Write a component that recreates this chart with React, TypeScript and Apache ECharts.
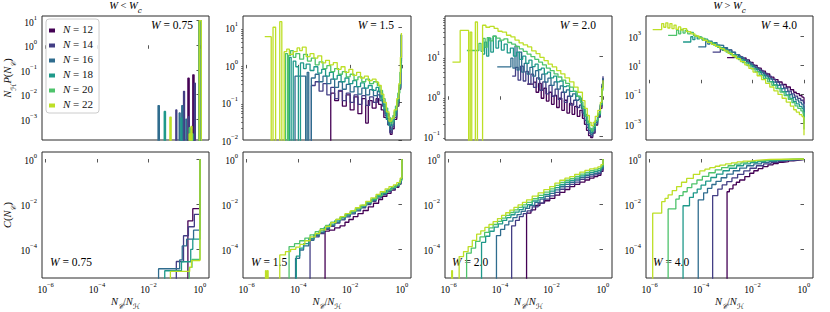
import React, { useEffect, useRef } from 'react';
import * as echarts from 'echarts';

type Pt = [number, number | null];

// Values are log10 of the plotted quantities (x = log10 N_C/N_H, y = log10 of the ordinate); null = empty bin.
const N_LABELS = ['12', '14', '16', '18', '20', '22'];
const W_VALUES = ['0.75', '1.5', '2.0', '4.0'];
const X_TICKS = [-6, -4, -2, 0];
const X_RANGE = [-6.14, 0.35];
const TOP_Y_TICKS = [[-3, -2, -1, 0, 1], [-2, -1, 0, 1], [-1, 0, 1], [-3, -1, 1, 3]];
const TOP_Y_RANGE = [[-3.85, 1.19], [-2.0, 1.3], [-1.09, 2.0], [-4.12, 4.37]];
const BOTTOM_Y_TICKS = [-4, -2, 0];
const BOTTOM_Y_RANGE = [-5.27, 0.31];

// ---- Panel 1: N_H P(N_C), W = 0.75
const p1n12: Pt[] = [[-0.52, null], [-0.47, -1.34], [-0.42, null], [-0.36, -3.4], [-0.33, null], [-0.28, -1.2], [-0.23, null], [-0.03, 0.98], [0.05, null]];
const p1n14: Pt[] = [[-1.0, null], [-0.94, -2.63], [-0.9, null], [-0.64, -1.87], [-0.6, null], [-0.45, -2.9], [-0.42, null], [-0.22, -1.54], [-0.18, null], [-0.03, 0.97], [0.05, null]];
const p1n16: Pt[] = [[-1.7, null], [-1.63, -2.45], [-1.58, null], [-0.81, -2.75], [-0.77, null], [-0.71, -2.45], [-0.67, null], [-0.55, -3.0], [-0.52, null], [-0.03, 0.97], [0.05, null]];
const p1n18: Pt[] = [[-1.45, null], [-1.39, -2.69], [-1.34, null], [-0.74, -2.95], [-0.71, null], [-0.38, -3.45], [-0.34, null], [-0.3, -3.6], [-0.27, null], [-0.03, 0.98], [0.05, null]];
const p1n20: Pt[] = [[-0.5, null], [-0.42, -3.35], [-0.38, null], [-0.33, -3.6], [-0.29, null], [-0.03, 0.99], [0.05, null]];
const p1n22: Pt[] = [[-1.2, null], [-1.17, -2.92], [-1.12, null], [-0.42, -3.6], [-0.38, null], [-0.35, -3.3], [-0.31, null], [-0.03, 1.0], [0.05, null]];

// ---- Panel 2: N_H P(N_C), W = 1.5
const p2n12: Pt[] = [[-2.85, null], [-2.75, -0.75], [-2.6, -0.95], [-2.45, -0.7], [-2.3, -1.1], [-2.15, -0.8], [-2.0, -1.2], [-1.85, -0.85], [-1.7, -1.3], [-1.55, -0.9], [-1.4, -1.55], [-1.3, -0.95], [-1.15, -1.15], [-1.0, -0.9], [-0.9, -1.05], [-0.8, -1.2], [-0.7, -1.4], [-0.6, -1.45], [-0.55, -1.3], [-0.5, -1.6], [-0.45, -1.85], [-0.38, -1.7], [-0.3, -1.45], [-0.2, -1.1], [-0.12, -0.65], [-0.05, 0.05], [-0.02, 0.8], [0, 0.8]];
const p2n14: Pt[] = [[-3.6, null], [-3.5, -0.55], [-3.35, -0.45], [-3.2, -0.7], [-3.05, -0.5], [-2.9, -0.8], [-2.75, -0.6], [-2.6, -0.9], [-2.45, -0.68], [-2.3, -0.95], [-2.15, -0.75], [-2.0, -1.0], [-1.85, -0.8], [-1.7, -1.05], [-1.55, -0.82], [-1.4, -1.08], [-1.25, -0.85], [-1.1, -1.0], [-0.95, -0.8], [-0.85, -0.95], [-0.75, -1.1], [-0.65, -1.35], [-0.55, -1.6], [-0.47, -1.8], [-0.38, -1.65], [-0.3, -1.4], [-0.2, -1.05], [-0.12, -0.62], [-0.05, 0.1], [-0.02, 0.8], [0, 0.8]];
const p2n16: Pt[] = [[-4.2, null], [-4.13, -0.3], [-3.72, null], [-3.66, -0.2], [-3.6, null], [-3.5, -0.35], [-3.35, -0.25], [-3.2, -0.45], [-3.05, -0.3], [-2.9, -0.5], [-2.75, -0.38], [-2.6, -0.6], [-2.45, -0.45], [-2.3, -0.65], [-2.15, -0.52], [-2.0, -0.72], [-1.85, -0.58], [-1.7, -0.78], [-1.55, -0.62], [-1.4, -0.8], [-1.25, -0.66], [-1.1, -0.82], [-0.95, -0.7], [-0.85, -0.85], [-0.75, -1.05], [-0.65, -1.3], [-0.55, -1.55], [-0.47, -1.72], [-0.38, -1.6], [-0.3, -1.35], [-0.2, -1.0], [-0.12, -0.6], [-0.05, 0.15], [-0.02, 0.8], [0, 0.8]];
const p2n18: Pt[] = [[-4.45, null], [-4.35, 0.2], [-4.28, null], [-4.2, 0.1], [-4.1, -0.05], [-4.0, null], [-3.92, 0.05], [-3.8, -0.1], [-3.7, 0.02], [-3.55, -0.15], [-3.4, -0.05], [-3.25, -0.22], [-3.1, -0.12], [-2.95, -0.3], [-2.8, -0.2], [-2.65, -0.38], [-2.5, -0.28], [-2.35, -0.45], [-2.2, -0.35], [-2.05, -0.5], [-1.9, -0.42], [-1.75, -0.58], [-1.6, -0.48], [-1.45, -0.62], [-1.3, -0.55], [-1.15, -0.68], [-1.0, -0.6], [-0.9, -0.72], [-0.8, -0.95], [-0.7, -1.2], [-0.6, -1.45], [-0.5, -1.62], [-0.4, -1.5], [-0.3, -1.25], [-0.2, -0.95], [-0.12, -0.55], [-0.05, 0.2], [-0.02, 0.8], [0, 0.8]];
const p2n20: Pt[] = [[-4.6, null], [-4.5, 0.3], [-4.42, null], [-4.38, 0.25], [-4.3, 0.38], [-4.2, 0.2], [-4.1, 0.3], [-3.95, 0.15], [-3.8, 0.28], [-3.65, 0.1], [-3.5, 0.18], [-3.35, 0.0], [-3.2, 0.08], [-3.05, -0.1], [-2.9, -0.02], [-2.75, -0.18], [-2.6, -0.1], [-2.45, -0.25], [-2.3, -0.18], [-2.15, -0.32], [-2.0, -0.25], [-1.85, -0.4], [-1.7, -0.32], [-1.55, -0.45], [-1.4, -0.38], [-1.25, -0.5], [-1.1, -0.45], [-0.95, -0.55], [-0.85, -0.68], [-0.75, -0.9], [-0.65, -1.15], [-0.55, -1.4], [-0.45, -1.55], [-0.35, -1.35], [-0.25, -1.1], [-0.16, -0.75], [-0.08, -0.2], [-0.03, 0.8], [0, 0.8]];
const p2n22: Pt[] = [[-5.3, 0.75], [-5.05, null], [-4.98, 1.0], [-4.88, null], [-4.72, 1.15], [-4.64, null], [-4.55, 0.35], [-4.45, 0.42], [-4.35, 0.28], [-4.2, 0.35], [-4.05, 0.45], [-3.95, 0.38], [-3.85, 0.47], [-3.7, 0.22], [-3.55, 0.3], [-3.4, 0.18], [-3.25, 0.24], [-3.1, 0.05], [-2.95, 0.12], [-2.8, 0.0], [-2.65, 0.06], [-2.5, -0.12], [-2.35, -0.05], [-2.2, -0.2], [-2.05, -0.12], [-1.9, -0.28], [-1.75, -0.2], [-1.6, -0.35], [-1.45, -0.3], [-1.3, -0.42], [-1.15, -0.38], [-1.0, -0.46], [-0.9, -0.55], [-0.8, -0.78], [-0.7, -1.0], [-0.6, -1.25], [-0.5, -1.5], [-0.4, -1.42], [-0.3, -1.2], [-0.2, -0.9], [-0.12, -0.5], [-0.06, 0.2], [-0.02, 0.85], [0, 0.85]];

// ---- Panel 3: N_H P(N_C), W = 2.0
const p3n12: Pt[] = [[-2.95, 0.3], [-2.7, 0.35], [-2.6, 0.1], [-2.5, 0.32], [-2.4, -0.05], [-2.3, 0.2], [-2.2, -0.12], [-2.1, 0.1], [-2.0, -0.2], [-1.9, 0.02], [-1.8, -0.28], [-1.7, -0.05], [-1.6, -0.35], [-1.5, -0.1], [-1.4, -0.42], [-1.3, -0.18], [-1.2, -0.45], [-1.1, -0.25], [-1.0, -0.5], [-0.9, -0.35], [-0.8, -0.55], [-0.72, -0.7], [-0.64, -0.85], [-0.56, -0.98], [-0.48, -1.03], [-0.4, -0.92], [-0.31, -0.72], [-0.21, -0.52], [-0.11, -0.3], [-0.04, 0.25], [0, 0.45]];
const p3n14: Pt[] = [[-3.53, 0.5], [-3.4, 0.72], [-3.3, 0.4], [-3.2, 0.75], [-3.1, 0.38], [-3.0, 0.62], [-2.9, 0.3], [-2.8, 0.55], [-2.7, 0.22], [-2.58, 0.46], [-2.46, 0.15], [-2.34, 0.36], [-2.22, 0.06], [-2.1, 0.27], [-1.98, 0.0], [-1.86, 0.18], [-1.74, -0.08], [-1.62, 0.1], [-1.5, -0.15], [-1.38, 0.0], [-1.26, -0.22], [-1.14, -0.1], [-1.02, -0.28], [-0.91, -0.22], [-0.81, -0.42], [-0.72, -0.6], [-0.63, -0.78], [-0.55, -0.92], [-0.47, -1.0], [-0.4, -0.9], [-0.31, -0.7], [-0.21, -0.5], [-0.11, -0.25], [-0.04, 0.3], [0, 0.5]];
const p3n16: Pt[] = [[-4.11, 0.73], [-3.58, 0.95], [-3.5, 0.7], [-3.42, 1.25], [-3.34, 0.65], [-3.26, 1.1], [-3.16, 0.6], [-3.06, 0.82], [-2.95, 0.55], [-2.84, 0.72], [-2.73, 0.5], [-2.62, 0.64], [-2.5, 0.42], [-2.38, 0.55], [-2.26, 0.35], [-2.14, 0.45], [-2.02, 0.27], [-1.9, 0.36], [-1.78, 0.18], [-1.66, 0.26], [-1.54, 0.1], [-1.42, 0.16], [-1.3, 0.0], [-1.18, 0.06], [-1.06, -0.1], [-0.95, -0.08], [-0.84, -0.3], [-0.74, -0.5], [-0.65, -0.7], [-0.56, -0.85], [-0.48, -0.95], [-0.4, -0.85], [-0.31, -0.66], [-0.21, -0.48], [-0.11, -0.22], [-0.04, 0.25], [0, 0.45]];
const p3n18: Pt[] = [[-4.69, 1.05], [-4.6, 1.35], [-4.52, 1.0], [-4.44, 1.45], [-4.36, 1.1], [-4.26, 1.5], [-4.16, 1.2], [-4.06, 1.38], [-3.95, 1.15], [-3.84, 1.3], [-3.72, 1.08], [-3.6, 1.2], [-3.48, 1.0], [-3.36, 1.1], [-3.24, 0.92], [-3.12, 1.0], [-3.0, 0.82], [-2.88, 0.9], [-2.76, 0.74], [-2.64, 0.8], [-2.52, 0.66], [-2.4, 0.7], [-2.28, 0.56], [-2.16, 0.6], [-2.04, 0.46], [-1.92, 0.5], [-1.8, 0.36], [-1.68, 0.38], [-1.55, 0.24], [-1.42, 0.26], [-1.3, 0.12], [-1.17, 0.12], [-1.05, 0.0], [-0.93, -0.05], [-0.82, -0.25], [-0.72, -0.45], [-0.63, -0.62], [-0.55, -0.8], [-0.47, -0.9], [-0.39, -0.8], [-0.3, -0.62], [-0.2, -0.45], [-0.1, -0.2], [-0.04, 0.2], [0, 0.35]];
const p3n20: Pt[] = [[-5.29, 1.14], [-4.82, 1.32], [-4.74, 1.12], [-4.66, 1.44], [-4.58, 1.22], [-4.5, 1.46], [-4.4, 1.38], [-4.28, 1.5], [-4.15, 1.45], [-4.0, 1.4], [-3.85, 1.43], [-3.7, 1.34], [-3.55, 1.3], [-3.4, 1.24], [-3.25, 1.18], [-3.1, 1.12], [-2.95, 1.05], [-2.8, 0.99], [-2.65, 0.92], [-2.5, 0.85], [-2.35, 0.78], [-2.2, 0.7], [-2.05, 0.64], [-1.9, 0.56], [-1.75, 0.48], [-1.6, 0.4], [-1.45, 0.32], [-1.3, 0.23], [-1.15, 0.12], [-1.0, 0.0], [-0.88, -0.15], [-0.78, -0.3], [-0.68, -0.5], [-0.6, -0.66], [-0.52, -0.8], [-0.45, -0.86], [-0.38, -0.75], [-0.3, -0.6], [-0.2, -0.42], [-0.1, -0.2], [-0.04, 0.15], [0, 0.3]];
const p3n22: Pt[] = [[-5.85, 0.85], [-5.55, 1.64], [-5.22, null], [-5.16, 1.6], [-5.1, null], [-4.96, 1.85], [-4.88, null], [-4.68, 1.77], [-4.55, 1.72], [-4.4, 1.74], [-4.23, 1.69], [-4.08, 1.62], [-3.92, 1.6], [-3.75, 1.52], [-3.58, 1.48], [-3.42, 1.4], [-3.26, 1.33], [-3.1, 1.28], [-2.93, 1.23], [-2.77, 1.13], [-2.6, 1.06], [-2.45, 0.97], [-2.29, 0.89], [-2.13, 0.8], [-1.97, 0.73], [-1.8, 0.64], [-1.64, 0.56], [-1.48, 0.46], [-1.3, 0.36], [-1.13, 0.23], [-0.97, 0.1], [-0.8, -0.11], [-0.7, -0.3], [-0.61, -0.48], [-0.53, -0.65], [-0.46, -0.73], [-0.38, -0.65], [-0.3, -0.5], [-0.2, -0.35], [-0.1, -0.15], [-0.04, 0.2], [0, 0.4]];

// ---- Panel 4: N_H P(N_C), W = 4.0
const p4n12: Pt[] = [[-2.99, 1.52], [-2.85, 1.52], [-2.7, 1.68], [-2.62, 1.55], [-2.54, 1.62], [-2.45, 1.48], [-2.36, 1.5], [-2.25, 1.36], [-2.12, 1.2], [-1.98, 0.99], [-1.82, 0.8], [-1.66, 0.6], [-1.5, 0.4], [-1.33, 0.19], [-1.17, 0.02], [-1.01, -0.15], [-0.85, -0.32], [-0.69, -0.49], [-0.53, -0.68], [-0.4, -0.85], [-0.3, -0.95], [-0.18, -1.08], [-0.08, -1.18], [-0.03, -1.22], [0, -1.63]];
const p4n14: Pt[] = [[-3.55, 1.9], [-3.25, 2.2], [-3.17, 2.02], [-3.09, 2.18], [-3.0, 1.98], [-2.91, 2.05], [-2.8, 1.88], [-2.68, 1.72], [-2.54, 1.58], [-2.39, 1.4], [-2.23, 1.22], [-2.07, 1.02], [-1.91, 0.84], [-1.75, 0.65], [-1.59, 0.45], [-1.43, 0.25], [-1.27, 0.05], [-1.11, -0.15], [-0.95, -0.35], [-0.79, -0.56], [-0.63, -0.77], [-0.49, -0.96], [-0.37, -1.12], [-0.25, -1.27], [-0.13, -1.4], [-0.03, -1.52], [0, -2.2]];
const p4n16: Pt[] = [[-4.11, 2.25], [-3.82, 2.62], [-3.74, 2.45], [-3.66, 2.65], [-3.57, 2.45], [-3.48, 2.55], [-3.38, 2.38], [-3.26, 2.35], [-3.12, 2.2], [-2.97, 2.05], [-2.82, 1.9], [-2.66, 1.72], [-2.5, 1.53], [-2.34, 1.34], [-2.18, 1.14], [-2.02, 0.92], [-1.86, 0.71], [-1.7, 0.5], [-1.54, 0.28], [-1.38, 0.06], [-1.22, -0.16], [-1.06, -0.38], [-0.9, -0.6], [-0.74, -0.81], [-0.58, -1.02], [-0.45, -1.2], [-0.33, -1.37], [-0.21, -1.53], [-0.1, -1.66], [-0.03, -1.8], [0, -2.6]];
const p4n18: Pt[] = [[-4.7, 2.59], [-4.4, 2.95], [-4.32, 2.75], [-4.24, 2.98], [-4.15, 2.8], [-4.06, 2.92], [-3.96, 2.72], [-3.86, 2.78], [-3.74, 2.62], [-3.6, 2.52], [-3.44, 2.37], [-3.28, 2.21], [-3.12, 2.05], [-2.96, 1.89], [-2.8, 1.72], [-2.63, 1.55], [-2.47, 1.37], [-2.31, 1.18], [-2.15, 0.98], [-1.98, 0.77], [-1.82, 0.56], [-1.66, 0.34], [-1.5, 0.11], [-1.34, -0.12], [-1.18, -0.35], [-1.02, -0.58], [-0.86, -0.81], [-0.7, -1.04], [-0.55, -1.27], [-0.42, -1.48], [-0.3, -1.65], [-0.18, -1.82], [-0.08, -1.96], [-0.03, -2.05], [0, -3.0]];
const p4n20: Pt[] = [[-5.28, 3.05], [-4.95, 3.4], [-4.87, 3.15], [-4.79, 3.45], [-4.7, 3.2], [-4.62, 3.38], [-4.52, 3.15], [-4.42, 3.25], [-4.3, 3.05], [-4.16, 2.95], [-4.0, 2.83], [-3.84, 2.68], [-3.68, 2.54], [-3.52, 2.38], [-3.36, 2.22], [-3.2, 2.06], [-3.03, 1.9], [-2.87, 1.73], [-2.71, 1.56], [-2.55, 1.38], [-2.39, 1.18], [-2.22, 0.98], [-2.06, 0.76], [-1.9, 0.54], [-1.74, 0.32], [-1.58, 0.1], [-1.41, -0.14], [-1.25, -0.37], [-1.09, -0.6], [-0.93, -0.84], [-0.77, -1.08], [-0.61, -1.33], [-0.47, -1.56], [-0.35, -1.78], [-0.24, -1.95], [-0.12, -2.12], [-0.04, -2.3], [0, -3.4]];
const p4n22: Pt[] = [[-5.88, 3.44], [-5.53, 3.85], [-5.45, 3.6], [-5.37, 3.9], [-5.29, 3.55], [-5.21, 3.85], [-5.13, 3.5], [-5.05, 3.75], [-4.97, 3.45], [-4.88, 3.62], [-4.79, 3.4], [-4.7, 3.5], [-4.56, 3.3], [-4.4, 3.15], [-4.24, 3.0], [-4.08, 2.85], [-3.92, 2.71], [-3.76, 2.57], [-3.6, 2.43], [-3.44, 2.29], [-3.27, 2.14], [-3.1, 1.98], [-2.95, 1.81], [-2.79, 1.63], [-2.63, 1.45], [-2.47, 1.24], [-2.3, 1.02], [-2.14, 0.78], [-1.98, 0.53], [-1.82, 0.28], [-1.65, 0.02], [-1.49, -0.24], [-1.33, -0.49], [-1.17, -0.75], [-1.01, -1.0], [-0.85, -1.26], [-0.69, -1.52], [-0.53, -1.8], [-0.4, -2.05], [-0.3, -2.21], [-0.18, -2.38], [-0.08, -2.5], [-0.03, -2.58], [0, -3.8]];

// ---- Panel 5: C(N_C), W = 0.75
const p5n12: Pt[] = [[-0.6, null], [-0.47, -2.74], [-0.28, -2.2], [0, 0]];
const p5n14: Pt[] = [[-1.0, null], [-0.92, -4.54], [-0.64, -3.4], [-0.45, -3.0], [-0.22, -2.45], [0, 0]];
const p5n16: Pt[] = [[-1.7, null], [-1.61, -4.86], [-0.79, -4.47], [-0.69, -3.85], [-0.52, -3.55], [-0.25, -3.15], [0, 0]];
const p5n18: Pt[] = [[-1.45, null], [-1.37, -4.95], [-0.72, -4.55], [-0.36, -4.0], [-0.28, -3.55], [0, 0]];
const p5n20: Pt[] = [[-0.5, null], [-0.42, -4.8], [-0.31, -4.45], [0, 0]];
const p5n22: Pt[] = [[-1.2, null], [-1.15, -4.98], [-0.4, -4.8], [-0.33, -4.5], [0, 0]];

// ---- Panel 6: C(N_C), W = 1.5
const p6n12: Pt[] = [[-3.1, null], [-2.97, -3.19], [-2.8, -3.15], [-2.6, -3.05], [-2.39, -2.96], [-2.2, -2.8], [-2.05, -2.68], [-1.88, -2.55], [-1.7, -2.42], [-1.5, -2.28], [-1.3, -2.12], [-1.1, -1.96], [-0.9, -1.8], [-0.75, -1.65], [-0.58, -1.52], [-0.42, -1.38], [-0.26, -1.25], [-0.12, -1.12], [-0.04, -0.9], [0, 0]];
const p6n14: Pt[] = [[-3.7, null], [-3.55, -3.55], [-3.4, -3.45], [-3.2, -3.3], [-3.0, -3.12], [-2.8, -2.98], [-2.6, -2.84], [-2.4, -2.7], [-2.2, -2.56], [-2.0, -2.43], [-1.8, -2.3], [-1.6, -2.16], [-1.4, -2.02], [-1.2, -1.87], [-1.0, -1.73], [-0.8, -1.58], [-0.6, -1.45], [-0.42, -1.33], [-0.26, -1.22], [-0.12, -1.1], [-0.04, -0.88], [0, 0]];
const p6n16: Pt[] = [[-4.25, null], [-4.11, -4.4], [-3.95, -4.03], [-3.8, -3.85], [-3.6, -3.6], [-3.4, -3.4], [-3.2, -3.25], [-3.0, -3.08], [-2.8, -2.94], [-2.6, -2.8], [-2.4, -2.66], [-2.2, -2.52], [-2.0, -2.39], [-1.8, -2.26], [-1.6, -2.12], [-1.4, -1.98], [-1.2, -1.83], [-1.0, -1.68], [-0.8, -1.54], [-0.6, -1.41], [-0.42, -1.3], [-0.26, -1.19], [-0.12, -1.07], [-0.04, -0.87], [0, 0]];
const p6n18: Pt[] = [[-4.2, null], [-4.08, -4.3], [-3.95, -3.95], [-3.8, -3.75], [-3.6, -3.52], [-3.4, -3.34], [-3.2, -3.18], [-3.0, -3.02], [-2.8, -2.88], [-2.6, -2.74], [-2.4, -2.6], [-2.2, -2.47], [-2.0, -2.34], [-1.8, -2.21], [-1.6, -2.08], [-1.4, -1.94], [-1.2, -1.8], [-1.0, -1.65], [-0.8, -1.51], [-0.6, -1.38], [-0.42, -1.27], [-0.26, -1.17], [-0.12, -1.04], [-0.04, -0.86], [0, 0]];
const p6n20: Pt[] = [[-4.5, null], [-4.36, -3.88], [-4.15, -3.75], [-3.95, -3.62], [-3.75, -3.5], [-3.55, -3.36], [-3.35, -3.22], [-3.15, -3.08], [-2.95, -2.94], [-2.75, -2.8], [-2.55, -2.68], [-2.35, -2.55], [-2.15, -2.42], [-1.95, -2.3], [-1.75, -2.17], [-1.55, -2.04], [-1.35, -1.9], [-1.15, -1.76], [-0.95, -1.62], [-0.75, -1.48], [-0.55, -1.35], [-0.38, -1.25], [-0.22, -1.15], [-0.08, -0.95], [0, 0]];
const p6n22: Pt[] = [[-5.4, null], [-5.27, -4.95], [-5.24, null], [-5.2, -4.95], [-5.17, null], [-4.72, -4.25], [-4.5, -4.1], [-4.3, -4.0], [-4.1, -3.9], [-3.94, -3.78], [-3.75, -3.62], [-3.55, -3.45], [-3.35, -3.3], [-3.17, -3.14], [-2.95, -2.98], [-2.75, -2.82], [-2.55, -2.67], [-2.39, -2.55], [-2.2, -2.42], [-2.0, -2.3], [-1.8, -2.16], [-1.62, -2.04], [-1.4, -1.88], [-1.2, -1.72], [-1.0, -1.57], [-0.84, -1.45], [-0.65, -1.32], [-0.5, -1.22], [-0.33, -1.15], [-0.2, -1.05], [-0.07, -0.85], [0, 0]];

// ---- Panel 7: C(N_C), W = 2.0
const p7n12: Pt[] = [[-3.1, null], [-2.97, -2.4], [-2.8, -2.25], [-2.62, -2.06], [-2.45, -1.95], [-2.27, -1.85], [-2.07, -1.74], [-1.87, -1.6], [-1.68, -1.48], [-1.48, -1.35], [-1.29, -1.22], [-1.1, -1.12], [-0.9, -1.02], [-0.7, -0.93], [-0.52, -0.85], [-0.35, -0.78], [-0.2, -0.72], [-0.08, -0.55], [0, 0]];
const p7n14: Pt[] = [[-3.68, null], [-3.55, -2.96], [-3.4, -2.72], [-3.25, -2.55], [-3.1, -2.42], [-2.95, -2.3], [-2.75, -2.12], [-2.52, -1.95], [-2.3, -1.78], [-2.07, -1.63], [-1.87, -1.48], [-1.68, -1.34], [-1.48, -1.22], [-1.29, -1.12], [-1.1, -1.02], [-0.9, -0.9], [-0.7, -0.82], [-0.52, -0.76], [-0.35, -0.7], [-0.2, -0.65], [-0.08, -0.48], [0, 0]];
const p7n16: Pt[] = [[-4.27, null], [-4.14, -3.39], [-3.98, -3.12], [-3.82, -2.92], [-3.66, -2.75], [-3.5, -2.6], [-3.34, -2.46], [-3.18, -2.32], [-3.02, -2.19], [-2.85, -2.06], [-2.65, -1.92], [-2.45, -1.78], [-2.25, -1.65], [-2.07, -1.52], [-1.87, -1.37], [-1.68, -1.23], [-1.48, -1.12], [-1.29, -1.03], [-1.1, -0.93], [-0.9, -0.82], [-0.7, -0.74], [-0.52, -0.68], [-0.35, -0.63], [-0.2, -0.58], [-0.08, -0.42], [0, 0]];
const p7n18: Pt[] = [[-4.85, null], [-4.72, -3.69], [-4.56, -3.42], [-4.4, -3.2], [-4.23, -3.02], [-4.07, -2.87], [-3.9, -2.72], [-3.74, -2.6], [-3.58, -2.47], [-3.42, -2.35], [-3.26, -2.24], [-3.1, -2.13], [-2.93, -2.02], [-2.75, -1.86], [-2.52, -1.71], [-2.3, -1.57], [-2.07, -1.42], [-1.87, -1.27], [-1.68, -1.14], [-1.48, -1.03], [-1.29, -0.95], [-1.1, -0.85], [-0.9, -0.75], [-0.7, -0.67], [-0.52, -0.6], [-0.35, -0.55], [-0.2, -0.5], [-0.08, -0.36], [0, 0]];
const p7n20: Pt[] = [[-5.45, null], [-5.3, -4.17], [-5.12, -3.95], [-4.95, -3.65], [-4.78, -3.45], [-4.6, -3.25], [-4.43, -3.05], [-4.27, -2.9], [-4.1, -2.76], [-3.94, -2.62], [-3.78, -2.5], [-3.62, -2.37], [-3.46, -2.25], [-3.3, -2.14], [-3.13, -2.03], [-2.97, -1.92], [-2.75, -1.76], [-2.52, -1.61], [-2.3, -1.47], [-2.07, -1.32], [-1.87, -1.17], [-1.68, -1.04], [-1.48, -0.94], [-1.29, -0.87], [-1.1, -0.77], [-0.9, -0.67], [-0.7, -0.59], [-0.52, -0.52], [-0.35, -0.48], [-0.2, -0.43], [-0.08, -0.31], [0, 0]];
const p7n22: Pt[] = [[-6.0, null], [-5.88, -4.95], [-5.85, null], [-5.59, -4.32], [-5.42, -4.1], [-5.24, -3.88], [-5.08, -3.6], [-4.91, -3.33], [-4.75, -3.18], [-4.59, -3.03], [-4.43, -2.9], [-4.27, -2.77], [-4.1, -2.64], [-3.94, -2.5], [-3.78, -2.38], [-3.62, -2.26], [-3.46, -2.14], [-3.3, -2.03], [-3.13, -1.92], [-2.97, -1.81], [-2.75, -1.64], [-2.52, -1.5], [-2.3, -1.36], [-2.07, -1.22], [-1.87, -1.07], [-1.68, -0.94], [-1.48, -0.85], [-1.29, -0.78], [-1.1, -0.68], [-0.9, -0.58], [-0.7, -0.5], [-0.52, -0.44], [-0.35, -0.4], [-0.2, -0.35], [-0.08, -0.25], [0, 0]];

// ---- Panel 8: C(N_C), W = 4.0
const p8n12: Pt[] = [[-3.12, null], [-2.99, -1.45], [-2.9, -1.32], [-2.76, -1.15], [-2.63, -1.03], [-2.5, -0.93], [-2.3, -0.78], [-2.11, -0.63], [-1.95, -0.52], [-1.78, -0.43], [-1.6, -0.34], [-1.4, -0.26], [-1.2, -0.2], [-1.0, -0.15], [-0.82, -0.12], [-0.6, -0.08], [-0.4, -0.05], [-0.2, -0.02], [0, 0]];
const p8n14: Pt[] = [[-3.68, null], [-3.55, -1.62], [-3.35, -1.33], [-3.18, -1.15], [-3.0, -1.0], [-2.8, -0.84], [-2.58, -0.68], [-2.34, -0.53], [-2.1, -0.41], [-1.85, -0.3], [-1.57, -0.22], [-1.28, -0.15], [-1.0, -0.1], [-0.7, -0.06], [-0.4, -0.03], [0, 0]];
const p8n16: Pt[] = [[-4.25, null], [-4.11, -1.81], [-3.9, -1.5], [-3.75, -1.3], [-3.58, -1.13], [-3.42, -0.99], [-3.22, -0.83], [-3.0, -0.67], [-2.75, -0.52], [-2.5, -0.4], [-2.23, -0.3], [-1.95, -0.22], [-1.65, -0.15], [-1.35, -0.1], [-1.05, -0.06], [-0.7, -0.03], [-0.35, -0.01], [0, 0]];
const p8n18: Pt[] = [[-4.82, null], [-4.7, -2.07], [-4.45, -1.7], [-4.3, -1.5], [-4.15, -1.33], [-4.0, -1.16], [-3.82, -0.98], [-3.62, -0.82], [-3.4, -0.67], [-3.15, -0.52], [-2.9, -0.41], [-2.62, -0.3], [-2.35, -0.22], [-2.08, -0.16], [-1.8, -0.11], [-1.5, -0.07], [-1.2, -0.04], [-0.8, -0.02], [-0.4, -0.01], [0, 0]];
const p8n20: Pt[] = [[-5.4, null], [-5.28, -2.21], [-4.98, -1.78], [-4.85, -1.62], [-4.7, -1.45], [-4.54, -1.27], [-4.36, -1.1], [-4.16, -0.93], [-3.95, -0.77], [-3.7, -0.61], [-3.45, -0.48], [-3.2, -0.38], [-2.95, -0.3], [-2.7, -0.23], [-2.45, -0.17], [-2.2, -0.12], [-1.9, -0.08], [-1.6, -0.05], [-1.3, -0.03], [-0.9, -0.01], [-0.4, 0], [0, 0]];
const p8n22: Pt[] = [[-6.0, null], [-5.88, -2.4], [-5.53, -1.89], [-5.4, -1.74], [-5.28, -1.59], [-5.12, -1.4], [-4.95, -1.22], [-4.76, -1.03], [-4.56, -0.86], [-4.3, -0.68], [-4.05, -0.53], [-3.85, -0.45], [-3.66, -0.38], [-3.45, -0.32], [-3.27, -0.27], [-3.05, -0.22], [-2.82, -0.17], [-2.6, -0.13], [-2.37, -0.09], [-2.1, -0.06], [-1.85, -0.04], [-1.6, -0.02], [-1.33, -0.01], [-0.7, 0], [0, 0]];

const PANELS: Pt[][][] = [
  [p1n12, p1n14, p1n16, p1n18, p1n20, p1n22],
  [p2n12, p2n14, p2n16, p2n18, p2n20, p2n22],
  [p3n12, p3n14, p3n16, p3n18, p3n20, p3n22],
  [p4n12, p4n14, p4n16, p4n18, p4n20, p4n22],
  [p5n12, p5n14, p5n16, p5n18, p5n20, p5n22],
  [p6n12, p6n14, p6n16, p6n18, p6n20, p6n22],
  [p7n12, p7n14, p7n16, p7n18, p7n20, p7n22],
  [p8n12, p8n14, p8n16, p8n18, p8n20, p8n22],
];

// ---- styling / layout
const COLORS = ['#440154', '#433e85', '#2f6c8e', '#1f998a', '#4ec36b', '#bddf26'];
const FONT = '"Liberation Serif", "DejaVu Serif", serif';
const COL_LEFT = [42, 243, 445, 646];
const COL_WIDTH = [167, 168, 167, 167];
const ROW_TOP = [16, 152];
const ROW_HEIGHT = [124, 126];
const FLOOR = -30;
const FRAME = '#2b2b2b';

const tickRich = {
  b: { fontFamily: FONT, fontSize: 9.5, color: '#000', lineHeight: 14, verticalAlign: 'bottom' },
  s: { fontFamily: FONT, fontSize: 6.5, color: '#000', lineHeight: 7, verticalAlign: 'top' },
};
const mathRich = (size: number) => ({
  i: { fontFamily: FONT, fontStyle: 'italic', fontSize: size, color: '#111', lineHeight: size + 4, verticalAlign: 'top' },
  r: { fontFamily: FONT, fontSize: size, color: '#111', lineHeight: size + 4, verticalAlign: 'top' },
  sb: { fontFamily: '"DejaVu Serif", "DejaVu Sans", serif', fontStyle: 'italic', fontSize: size * 0.7, color: '#111', lineHeight: size * 0.7, verticalAlign: 'bottom' },
});
const fmtPow = (v: number) => `{b|10}{s|${v < 0 ? '\u2212' : ''}${Math.abs(Math.round(v))}}`;

function minorTicks(lo: number, hi: number): number[] {
  const out: number[] = [];
  for (let n = Math.floor(lo) - 1; n <= Math.ceil(hi); n++) {
    for (let k = 2; k <= 9; k++) {
      const v = n + Math.log10(k);
      if (v > lo && v < hi) out.push(v);
    }
  }
  return out;
}

function buildOption() {
  const grid: any[] = [];
  const xAxis: any[] = [];
  const yAxis: any[] = [];
  const series: any[] = [];
  for (let p = 0; p < 8; p++) {
    const row = p < 4 ? 0 : 1;
    const col = p % 4;
    grid.push({
      left: COL_LEFT[col], top: ROW_TOP[row], width: COL_WIDTH[col], height: ROW_HEIGHT[row],
      show: true, borderColor: FRAME, borderWidth: 1, backgroundColor: 'transparent', containLabel: false,
    });
    xAxis.push({
      type: 'value', gridIndex: p, min: X_RANGE[0], max: X_RANGE[1], position: 'bottom',
      axisLine: { show: false }, splitLine: { show: false },
      axisTick: { show: true, length: 3.5, lineStyle: { color: FRAME, width: 0.8 }, customValues: X_TICKS },
      axisLabel: {
        show: row === 1, customValues: X_TICKS, margin: 3, formatter: fmtPow, rich: tickRich,
      },
      name: row === 1 ? '{i|N}{sb|\uD835\uDC9E}{r|/}{i|N}{sb|\u210B}' : '',
      nameLocation: 'middle', nameGap: 17,
      nameTextStyle: { rich: mathRich(10.5) },
    });
    const yr = row === 0 ? TOP_Y_RANGE[col] : BOTTOM_Y_RANGE;
    const yt = row === 0 ? TOP_Y_TICKS[col] : BOTTOM_Y_TICKS;
    let yName = '';
    if (p === 0) yName = '{i|N}{sb|\u210B}{i|P}{r|(}{i|N}{sb|\uD835\uDC9E}{r|)}';
    if (p === 4) yName = '{i|C}{r|(}{i|N}{sb|\uD835\uDC9E}{r|)}';
    yAxis.push({
      type: 'value', gridIndex: p, min: yr[0], max: yr[1], position: 'left',
      axisLine: { show: false }, splitLine: { show: false },
      axisTick: { show: true, length: 3.5, lineStyle: { color: FRAME, width: 0.8 }, customValues: yt },
      axisLabel: { show: true, customValues: yt, margin: 5, formatter: fmtPow, rich: tickRich },
      name: yName, nameLocation: 'middle', nameRotate: 90, nameGap: 25,
      nameTextStyle: { rich: mathRich(10.5) },
    });
    PANELS[p].forEach((pts, k) => {
      series.push({
        type: 'line', name: 'N = ' + N_LABELS[k], xAxisIndex: p, yAxisIndex: p,
        data: pts.map(([x, y]) => [x, y === null ? FLOOR : y]),
        step: 'end', showSymbol: false, symbol: 'none', clip: true, silent: true,
        lineStyle: { width: 1.3, color: COLORS[k] }, itemStyle: { color: COLORS[k] },
        emphasis: { disabled: true },
      });
    });
  }
  // minor ticks on the left y axes of panels 2 and 3
  [1, 2].forEach((p) => {
    const yr = TOP_Y_RANGE[p];
    yAxis.push({
      type: 'value', gridIndex: p, min: yr[0], max: yr[1], position: 'left', offset: 0,
      axisLine: { show: false }, splitLine: { show: false }, axisLabel: { show: false },
      axisTick: { show: true, length: 2, lineStyle: { color: FRAME, width: 0.6 }, customValues: minorTicks(yr[0], yr[1]) },
    });
  });

  const graphic: any[] = [];
  const wRich = mathRich(11.5);
  const topWX = [193, 394, 596, 797];
  const botWX = [50, 251, 452, 653];
  W_VALUES.forEach((w, i) => {
    graphic.push({
      type: 'text', x: topWX[i], y: 27,
      style: { text: `{i|W}{r| = ${w}}`, rich: wRich, align: 'right', verticalAlign: 'middle' },
    });
    graphic.push({
      type: 'text', x: botWX[i], y: 264,
      style: { text: `{i|W}{r| = ${w}}`, rich: wRich, align: 'left', verticalAlign: 'middle' },
    });
  });
  graphic.push({
    type: 'text', x: COL_LEFT[0] + COL_WIDTH[0] / 2, y: 7,
    style: { text: '{i|W}{r| < }{i|W}{sb|c}', rich: mathRich(10.5), align: 'center', verticalAlign: 'middle' },
  });
  graphic.push({
    type: 'text', x: COL_LEFT[3] + COL_WIDTH[3] / 2, y: 7,
    style: { text: '{i|W}{r| > }{i|W}{sb|c}', rich: mathRich(10.5), align: 'center', verticalAlign: 'middle' },
  });

  return {
    animation: false,
    backgroundColor: '#ffffff',
    grid, xAxis, yAxis, series, graphic,
    legend: {
      data: N_LABELS.map((n) => ({ name: 'N = ' + n, icon: 'rect' })),
      orient: 'vertical', left: 46, top: 19,
      itemWidth: 6, itemHeight: 4, itemGap: 4,
      padding: [4, 6, 4, 3],
      backgroundColor: 'rgba(255,255,255,0.85)', borderColor: '#cccccc', borderWidth: 1, borderRadius: 3,
      selectedMode: false,
      formatter: (name: string) => `{i|N}{r| = ${name.split('= ')[1]}}`,
      textStyle: { rich: mathRich(11), padding: [0, 0, 0, 3] },
    },
  };
}

export default function App() {
  const ref = useRef<HTMLDivElement>(null);
  useEffect(() => {
    if (!ref.current) return;
    const chart = echarts.init(ref.current, null, { renderer: 'svg' });
    chart.setOption(buildOption() as any);
    return () => chart.dispose();
  }, []);
  return <div ref={ref} style={{ position: 'absolute', left: 0, top: 0, width: 830, height: 312 }} />;
}
